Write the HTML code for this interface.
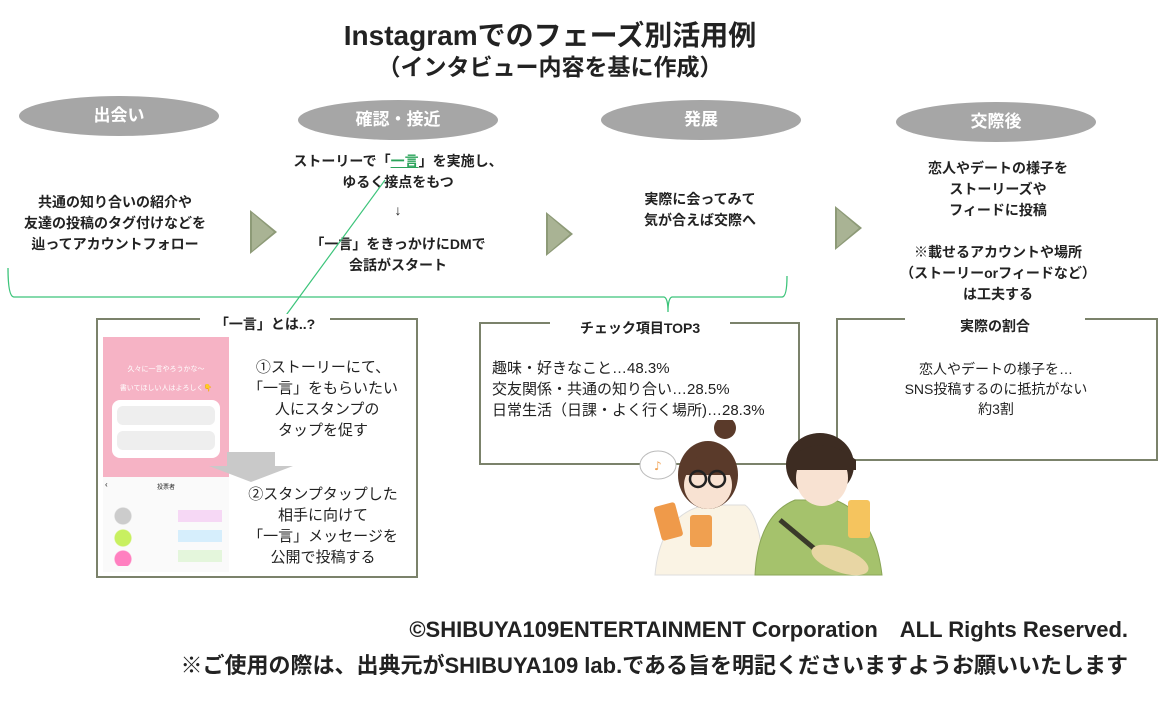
<!DOCTYPE html>
<html><head><meta charset="utf-8"><style>
body{margin:0;width:1160px;height:701px;background:#fff;position:relative;overflow:hidden;font-family:"Liberation Sans","Noto Sans CJK JP",sans-serif;color:#222}
.a{position:absolute;white-space:nowrap}
.c{text-align:center}
.b{font-weight:bold}
.pill{position:absolute;background:#a6a6a6;border-radius:50%;color:#fff;font-size:17px;font-weight:bold;text-align:center;line-height:40px;height:40px}
.tri{position:absolute;width:0;height:0;border-top:22px solid transparent;border-bottom:22px solid transparent;border-left:27px solid #8d9a77}
.tri:after{content:"";position:absolute;left:-25px;top:-19px;border-top:19px solid transparent;border-bottom:19px solid transparent;border-left:22px solid #a9b394}
.box{position:absolute;border:2px solid #7b826b}
.tt{position:absolute;background:#fff;font-weight:bold;font-size:14px;text-align:center}
</style></head><body>
<div class="a c b" style="left:0;width:1100px;top:14px;font-size:28px;">Instagramでのフェーズ別活用例</div>
<div class="a c b" style="left:0;width:1100px;top:48px;font-size:23px;">（インタビュー内容を基に作成）</div>

<div class="pill" style="left:19px;top:96px;width:200px;">出会い</div>
<div class="pill" style="left:298px;top:100px;width:200px;">確認・接近</div>
<div class="pill" style="left:601px;top:100px;width:200px;">発展</div>
<div class="pill" style="left:896px;top:102px;width:200px;">交際後</div>

<div class="a c b" style="left:0;width:230px;top:192px;font-size:14px;line-height:21px;">共通の知り合いの紹介や<br>友達の投稿のタグ付けなどを<br>辿ってアカウントフォロー</div>
<div class="a c b" style="left:258px;width:280px;top:151px;font-size:14px;line-height:21px;">ストーリーで「<span style="color:#2aa35a;text-decoration:underline">一言</span>」を実施し、<br>ゆるく接点をもつ</div>
<div class="a c" style="left:258px;width:280px;top:202px;font-size:14px;">↓</div>
<div class="a c b" style="left:258px;width:280px;top:234px;font-size:14px;line-height:21px;">「一言」をきっかけにDMで<br>会話がスタート</div>
<div class="a c b" style="left:560px;width:280px;top:189px;font-size:14px;line-height:21px;">実際に会ってみて<br>気が合えば交際へ</div>
<div class="a c b" style="left:858px;width:280px;top:158px;font-size:14px;line-height:21px;">恋人やデートの様子を<br>ストーリーズや<br>フィードに投稿<br><br>※載せるアカウントや場所<br>（ストーリーorフィードなど）<br>は工夫する</div>

<div class="tri" style="left:250px;top:210px;"></div>
<div class="tri" style="left:546px;top:212px;"></div>
<div class="tri" style="left:835px;top:206px;"></div>

<svg class="a" style="left:0;top:0" width="1160" height="701">
<path d="M8 268 Q8 297 14 297 L664 297 Q668 298 668 312 Q668 298 672 297 L782 297 Q787 297 787 276" fill="none" stroke="#3cc47a" stroke-width="1.3"/>
<line x1="385" y1="180" x2="284" y2="318" stroke="#3cc47a" stroke-width="1.2"/>
</svg>

<!-- box 1 -->
<div class="box" style="left:96px;top:318px;width:318px;height:256px;"></div>
<div class="tt" style="left:200px;top:314px;width:130px;">「一言」とは..?</div>
<div class="a" style="left:103px;top:337px;width:126px;height:140px;background:#f6b3c5;"></div>
<div class="a c" style="left:103px;top:364px;width:126px;font-size:7px;color:#fff;">久々に一言やろうかな〜</div>
<div class="a c" style="left:103px;top:383px;width:126px;font-size:7px;color:#fff;">書いてほしい人はよろしく👇</div>
<div class="a" style="left:112px;top:400px;width:108px;height:58px;background:#fff;border-radius:8px;"></div>
<div class="a" style="left:117px;top:406px;width:98px;height:19px;background:#eee;border-radius:6px;"></div>
<div class="a" style="left:117px;top:431px;width:98px;height:19px;background:#eee;border-radius:6px;"></div>
<div class="a" style="left:103px;top:477px;width:126px;height:95px;background:#fafafa;"></div>
<div class="a" style="left:105px;top:480px;font-size:8px;">‹</div>
<div class="a c" style="left:103px;top:482px;width:126px;font-size:6px;">投票者</div>
<div class="a" style="left:108px;top:506px;width:50px;height:60px;background:radial-gradient(circle at 15px 10px,#ccc 8px,transparent 9px),radial-gradient(circle at 15px 32px,#c8f060 8px,transparent 9px),radial-gradient(circle at 15px 53px,#ff80c0 8px,transparent 9px);"></div>
<div class="a" style="left:178px;top:510px;width:44px;height:12px;background:#f6d8f5;"></div>
<div class="a" style="left:178px;top:530px;width:44px;height:12px;background:#d6eefc;"></div>
<div class="a" style="left:178px;top:550px;width:44px;height:12px;background:#e4f6dc;"></div>
<svg class="a" style="left:205px;top:452px" width="90" height="30"><polygon points="22,0 70,0 70,14 88,14 46,30 4,14 22,14" fill="#c9c9c9"/></svg>
<div class="a c" style="left:228px;width:190px;top:357px;font-size:15px;line-height:21px;">①ストーリーにて、<br>「一言」をもらいたい<br>&nbsp;&nbsp;人にスタンプの<br>タップを促す</div>
<div class="a c" style="left:228px;width:190px;top:484px;font-size:15px;line-height:21px;">②スタンプタップした<br>相手に向けて<br>「一言」メッセージを<br>公開で投稿する</div>

<!-- box 2 -->
<div class="box" style="left:479px;top:322px;width:317px;height:139px;"></div>
<div class="tt" style="left:550px;top:318px;width:180px;">チェック項目TOP3</div>
<div class="a" style="left:492px;top:358px;font-size:15px;line-height:21px;">趣味・好きなこと…48.3%<br>交友関係・共通の知り合い…28.5%<br>日常生活（日課・よく行く場所)…28.3%</div>

<!-- box 3 -->
<div class="box" style="left:836px;top:318px;width:318px;height:139px;"></div>
<div class="tt" style="left:905px;top:316px;width:180px;">実際の割合</div>
<div class="a c" style="left:836px;width:320px;top:359px;font-size:14px;line-height:20px;">恋人やデートの様子を…<br>SNS投稿するのに抵抗がない<br>約3割</div>

<!-- illustration -->
<svg class="a" style="left:620px;top:420px" width="280" height="170">
<ellipse cx="38" cy="45" rx="18" ry="14" fill="#fff" stroke="#bbb"/>
<text x="34" y="50" font-size="12" fill="#f0a050" font-family="DejaVu Sans">♪</text>
<path d="M35 155 Q40 95 85 85 L125 85 Q140 95 145 155 Z" fill="#faf3e4" stroke="#ddd"/>
<circle cx="105" cy="8" r="11" fill="#5a3a2a"/>
<ellipse cx="88" cy="55" rx="30" ry="34" fill="#5a3a2a"/>
<ellipse cx="88" cy="65" rx="24" ry="24" fill="#f8e2d2"/>
<path d="M64 45 Q88 25 114 45 L114 55 L64 55Z" fill="#5a3a2a"/>
<circle cx="78" cy="59" r="8" fill="none" stroke="#222" stroke-width="2.5"/>
<circle cx="97" cy="59" r="8" fill="none" stroke="#222" stroke-width="2.5"/>
<rect x="37" y="84" width="22" height="35" rx="3" fill="#ef9a4a" transform="rotate(-15 48 100)"/>
<rect x="70" y="95" width="22" height="32" rx="3" fill="#f0a050"/>
<path d="M135 155 Q138 95 175 80 L215 80 Q255 95 262 155 Z" fill="#a5c26c" stroke="#8aa557"/>
<ellipse cx="200" cy="45" rx="34" ry="32" fill="#3d2c22"/>
<ellipse cx="202" cy="58" rx="26" ry="28" fill="#f8e2d2"/>
<path d="M168 40 Q200 10 236 40 L236 50 L168 50Z" fill="#3d2c22"/>
<rect x="228" y="80" width="22" height="38" rx="3" fill="#f5c45e"/>
<path d="M160 100 L220 150" stroke="#3a3a2a" stroke-width="5"/>
<ellipse cx="220" cy="140" rx="30" ry="12" fill="#e8d6a4" transform="rotate(20 220 140)"/>
</svg>

<div class="a b" style="right:32px;top:612px;font-size:22px;">©SHIBUYA109ENTERTAINMENT Corporation　ALL Rights Reserved.</div>
<div class="a b" style="right:32px;top:648px;font-size:22px;">※ご使用の際は、出典元がSHIBUYA109 lab.である旨を明記くださいますようお願いいたします</div>
</body></html>
